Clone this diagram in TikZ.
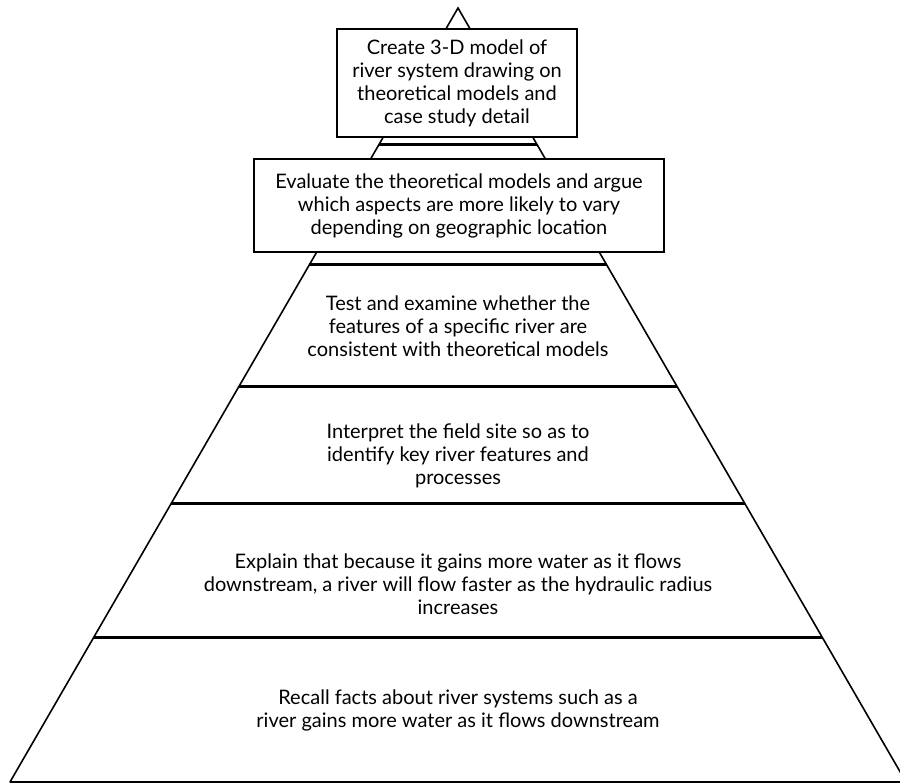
\documentclass[tikz,border=0pt]{standalone}
\usepackage{fontspec}
\setmainfont{Lato}
\usetikzlibrary{calc}
\tikzset{
  edge/.style={line width=1.6pt, line cap=round},
  tier/.style={line width=3pt},
  tiertext/.style={align=center, font=\fontsize{20}{23}\selectfont, inner sep=0pt},
  topbox/.style={draw, line width=1.2pt, fill=white, align=center,
    font=\fontsize{20}{23}\selectfont, inner sep=0pt},
}
\begin{document}
\begin{tikzpicture}[x=1pt, y=-1pt]
  \useasboundingbox (0,0) rectangle (900,783);
  \clip (0,0) rectangle (900,783);

  % outline of the pyramid
  \coordinate (apex) at (458,8);
  \coordinate (bl) at (10,782);
  \coordinate (br) at (906,782);
  \draw[edge] (bl) -- (apex) -- (br);
  \draw[line width=1.6pt] (bl) -- (br);

  % tier boundaries, placed along the sloping sides
  \foreach \t [count=\i] in {0.1770,0.3320,0.4884,0.6408,0.8127}{
    \coordinate (l\i) at ($(apex)!\t!(bl)$);
    \coordinate (r\i) at ($(apex)!\t!(br)$);
    \draw[tier] (l\i) -- (r\i);
  }

  % boxed goals near the apex
  \node[topbox, minimum width=240pt, minimum height=108pt] (create) at (457,83)
    {Create 3-D model of\\ river system drawing on\\ theoretical models and\\ case study detail};
  \node[topbox, minimum width=410pt, minimum height=93pt] (evaluate) at (459,205.5)
    {Evaluate the theoretical models and argue\\ which aspects are more likely to vary\\ depending on geographic location};

  % tier labels
  \node[tiertext] (test) at (458,326)
    {Test and examine whether the\\ features of a specific river are\\ consistent with theoretical models};
  \node[tiertext] (interpret) at (458,456)
    {Interpret the field site so as to\\ identify key river features and\\ processes};
  \node[tiertext] (explain) at (458,584)
    {Explain that because it gains more water as it flows\\ downstream, a river will flow faster as the hydraulic radius\\ increases};
  \node[tiertext] (recall) at (458,710)
    {Recall facts about river systems such as a\\ river gains more water as it flows downstream};
\end{tikzpicture}
\end{document}
